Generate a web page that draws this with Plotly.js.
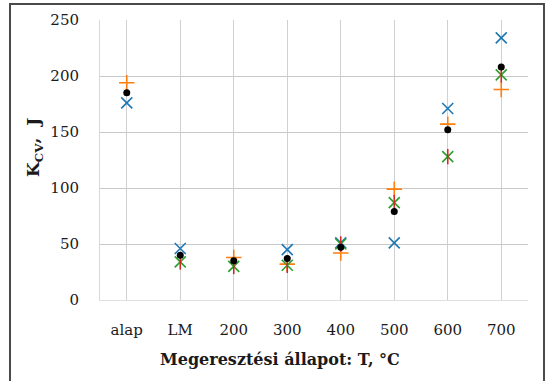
<!DOCTYPE html>
<html>
<head>
<meta charset="utf-8">
<script src="https://cdn.plot.ly/plotly-3.0.1.min.js"></script>
<style>
  html, body { margin: 0; padding: 0; background: #fff; overflow: hidden; }
  #wrap { position: relative; width: 546px; height: 381px; }
  #chart { position: absolute; left: 0; top: 0; width: 546px; height: 381px; }
  #frame { position: absolute; left: 9px; top: 3px; width: 532px; height: 400px;
           border: 2px solid #4a4a4a; border-bottom: none; pointer-events: none; }
</style>
</head>
<body>
<div id="wrap">
  <div id="chart"></div>
  <div id="frame"></div>
</div>
<script>
const categories = ["alap", "LM", "200", "300", "400", "500", "600", "700"];
const seriesOrange = [194, null, 38, 32, 42, 99, 157, 188];
const seriesBlue   = [176, 46, null, 45, 51, 51, 171, 234];
const seriesGreen  = [null, 34, 30, 31, 50, 87, 128, 201];
const seriesMean   = [185, 40, 35, 37, 47, 79, 152, 208];
const yTickValues  = [0, 50, 100, 150, 200, 250];
const xTitle = "Megeresztési állapot: T, °C";
const yTitle = "K<sub>CV</sub>,  J";

const fontFam = "DejaVu Serif, serif";

const traces = [
  { x: categories, y: seriesBlue, type: "scatter", mode: "markers", name: "1",
    marker: { symbol: "x-thin-open", size: 11, line: { color: "#5B9BD5", width: 1.6 } } },
  { x: categories, y: seriesOrange, type: "scatter", mode: "markers", name: "2",
    marker: { symbol: "cross-thin-open", size: 11, line: { color: "#ED7D31", width: 1.6 } } },
  { x: categories, y: seriesGreen, type: "scatter", mode: "markers", name: "3",
    marker: { symbol: "x-thin-open", size: 11, line: { color: "#548235", width: 1.6 } } },
  { x: categories, y: seriesGreen, type: "scatter", mode: "markers", name: "3b", showlegend: false,
    marker: { symbol: "line-ns-open", size: 11, line: { color: "#548235", width: 1.6 } } },
  { x: categories, y: seriesMean, type: "scatter", mode: "markers", name: "átlag",
    marker: { symbol: "circle", size: 7, color: "#000000" } }
];

const layout = {
  width: 546, height: 381,
  margin: { l: 100, r: 18, t: 20, b: 81, pad: 0 },
  paper_bgcolor: "#ffffff", plot_bgcolor: "#ffffff",
  showlegend: false,
  font: { family: fontFam, size: 15, color: "#1a1a1a" },
  xaxis: {
    type: "category", categoryorder: "array", categoryarray: categories,
    range: [-0.5, 7.5], showgrid: true, gridcolor: "#d0d0d0", gridwidth: 1,
    showline: true, linecolor: "#e0e0e0", linewidth: 1, mirror: false,
    ticks: "", ticklabelstandoff: 16, zeroline: false,
    tickfont: { family: fontFam, size: 15, color: "#1a1a1a" }, fixedrange: true
  },
  yaxis: {
    range: [0, 250], tickvals: yTickValues, ticktext: yTickValues.map(String),
    showgrid: true, gridcolor: "#c8c8c8", gridwidth: 1,
    showline: true, linecolor: "#d8d8d8", linewidth: 1,
    ticks: "", ticklabelstandoff: 17, zeroline: false,
    tickfont: { family: fontFam, size: 15, color: "#1a1a1a" }, fixedrange: true
  },
  annotations: [
    { text: "<b>" + xTitle + "</b>", xref: "paper", yref: "paper",
      x: (280 - 100) / 428, y: -(359 - 300) / 280, xanchor: "center", yanchor: "middle",
      showarrow: false, font: { family: fontFam, size: 16, color: "#1a1a1a" } },
    { text: "<b>" + yTitle + "</b>", xref: "paper", yref: "paper", textangle: -90,
      x: (34 - 100) / 428, y: (300 - 148) / 280, xanchor: "center", yanchor: "middle",
      showarrow: false, font: { family: fontFam, size: 17, color: "#1a1a1a" } }
  ]
};

Plotly.newPlot("chart", traces, layout, { staticPlot: true, displayModeBar: false });
</script>
</body>
</html>
